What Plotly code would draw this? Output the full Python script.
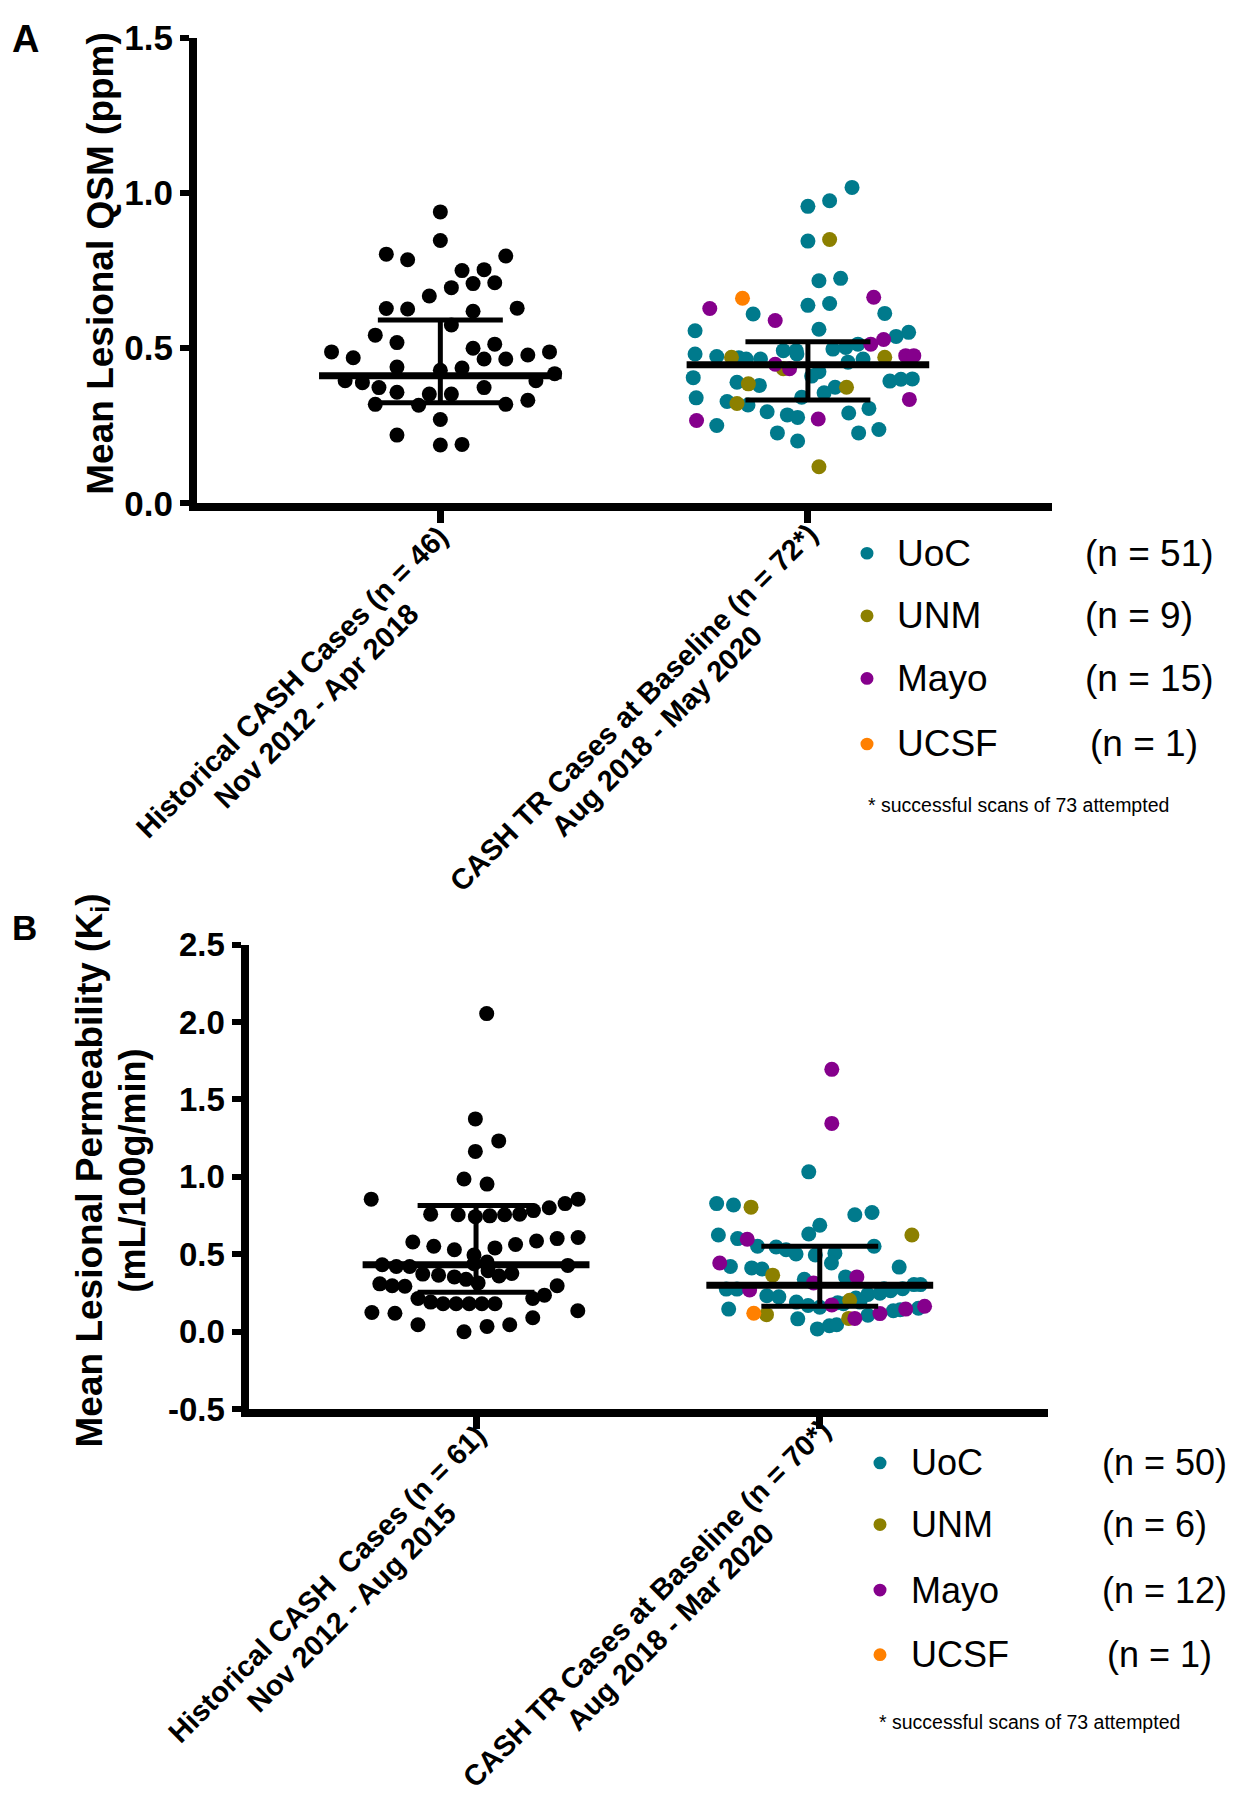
import plotly.graph_objects as go

# Reference canvas is 1234x1800; the page body has an 8px margin, so the
# figure is made 16px smaller and every layout position is shifted by 8px.
W, H = 1234, 1800
OFF = 8
FW, FH = W - 2 * OFF, H - 2 * OFF
FONT = "Liberation Sans, Arial, Helvetica, sans-serif"

# ---------------- labels ----------------
cat_A_line1 = ["Historical CASH Cases (n = 46)", "CASH TR Cases at Baseline (n = 72*)"]
cat_A_line2 = ["Nov 2012 - Apr 2018", "Aug 2018 - May 2020"]
cat_B_line1 = ["Historical CASH\u00a0 Cases (n = 61)", "CASH TR Cases at Baseline (n = 70*)"]
cat_B_line2 = ["Nov 2012 - Aug 2015", "Aug 2018 - Mar 2020"]

sites = ["UoC", "UNM", "Mayo", "UCSF"]
site_colors = ["#007A8C", "#8C8000", "#85008C", "#FF8000"]
legend_n_A = ["(n = 51)", "(n = 9)", "(n = 15)", "(n = 1)"]
legend_n_B = ["(n = 50)", "(n = 6)", "(n = 12)", "(n = 1)"]
footnote = "* successful scans of 73 attempted"

ytitle_A = "Mean Lesional QSM (ppm)"
ytitle_B1 = "Mean Lesional Permeability (K<sub>i</sub>)"
ytitle_B2 = "(mL/100g/min)"

yticks_A = [0.0, 0.5, 1.0, 1.5]
yticklabels_A = ["0.0", "0.5", "1.0", "1.5"]
yticks_B = [-0.5, 0.0, 0.5, 1.0, 1.5, 2.0, 2.5]
yticklabels_B = ["-0.5", "0.0", "0.5", "1.0", "1.5", "2.0", "2.5"]

# ---------------- Panel A data (QSM, ppm) ----------------
a_hist_y = [0.939, 0.847, 0.803, 0.785, 0.797, 0.750, 0.753, 0.695, 0.708, 0.711,
            0.668, 0.628, 0.626, 0.619, 0.629, 0.575, 0.542, 0.518, 0.500, 0.513,
            0.488, 0.469, 0.465, 0.465, 0.478, 0.488, 0.439, 0.429, 0.436, 0.418,
            0.395, 0.389, 0.373, 0.395, 0.373, 0.358, 0.352, 0.352, 0.319, 0.316,
            0.319, 0.332, 0.270, 0.220, 0.188, 0.190]
a_hist_dx = [0.000, 0.000, -0.147, -0.089, 0.178, 0.059, 0.119, 0.030, 0.089, 0.148,
             -0.030, -0.147, -0.089, 0.089, 0.209, 0.030, -0.177, -0.118, 0.089, 0.148,
             -0.296, -0.237, 0.119, 0.178, 0.238, 0.297, -0.118, 0.000, 0.059, 0.311,
             -0.259, -0.212, -0.167, 0.260, 0.119, -0.118, -0.030, 0.030, -0.177, -0.059,
             0.178, 0.238, 0.000, -0.118, 0.000, 0.059]

a_uoc_y = [1.018, 0.975, 0.957, 0.845, 0.717, 0.725, 0.638, 0.644, 0.610, 0.612,
           0.556, 0.561, 0.551, 0.538, 0.481, 0.473, 0.469, 0.465, 0.465, 0.492,
           0.492, 0.481, 0.497, 0.502, 0.513, 0.455, 0.465, 0.424, 0.410, 0.405,
           0.390, 0.380, 0.394, 0.400, 0.401, 0.374, 0.356, 0.342, 0.340, 0.328,
           0.317, 0.295, 0.285, 0.277, 0.291, 0.306, 0.251, 0.227, 0.201, 0.227,
           0.238]
a_uoc_dx = [0.120, 0.059, 0.000, 0.000, 0.030, 0.089, 0.000, 0.059, -0.149, 0.209,
            -0.307, 0.030, 0.274, 0.240, -0.307, -0.248, -0.188, -0.168, -0.129, -0.067,
            -0.032, -0.030, 0.068, 0.103, 0.136, 0.109, 0.150, 0.030, 0.010, -0.312,
            -0.193, -0.132, 0.223, 0.253, 0.284, 0.074, 0.044, -0.017, -0.304, -0.220,
            -0.163, -0.111, -0.056, -0.028, 0.111, 0.166, -0.248, -0.083, -0.028, 0.138,
            0.193]
a_unm_y = [0.850, 0.471, 0.471, 0.434, 0.385, 0.374, 0.322, 0.118]
a_unm_dx = [0.059, -0.208, 0.209, -0.067, -0.162, 0.105, -0.193, 0.030]
a_mayo_y = [0.628, 0.589, 0.664, 0.528, 0.513, 0.476, 0.476, 0.448, 0.434, 0.335, 0.267, 0.272]
a_mayo_dx = [-0.267, -0.089, 0.179, 0.206, 0.171, 0.266, 0.288, -0.089, -0.050, 0.276, -0.303, 0.028]
a_ucsf_y = [0.661]
a_ucsf_dx = [-0.178]

a_median = [0.411, 0.447]
a_q1 = [0.324, 0.333]
a_q3 = [0.591, 0.521]

# ---------------- Panel B data (Ki, mL/100g/min) ----------------
b_hist_y = [2.054, 1.374, 1.232, 1.164, 0.986, 0.953, 0.856, 0.856, 0.827, 0.800,
            0.782, 0.759, 0.755, 0.743, 0.748, 0.755, 0.759, 0.579, 0.552, 0.529,
            0.541, 0.563, 0.586, 0.601, 0.608, 0.495, 0.432, 0.421, 0.421, 0.372,
            0.365, 0.354, 0.450, 0.360, 0.376, 0.428, 0.338, 0.315, 0.309, 0.297,
            0.293, 0.297, 0.236, 0.214, 0.191, 0.180, 0.180, 0.180, 0.180, 0.180,
            0.214, 0.124, 0.119, 0.135, 0.045, 0.000, 0.034, 0.045, 0.090, 0.439,
            0.394]
b_hist_dx = [0.031, -0.002, 0.066, -0.002, -0.035, 0.032, -0.305, 0.297, 0.259, 0.213,
             0.167, -0.132, -0.052, -0.002, 0.040, 0.083, 0.127, -0.184, -0.123, -0.063,
             0.055, 0.115, 0.176, 0.236, 0.297, -0.006, -0.273, -0.232, -0.193, -0.155,
             -0.109, -0.063, 0.032, 0.067, 0.104, 0.267, -0.029, 0.006, -0.280, -0.244,
             -0.207, 0.236, 0.199, -0.169, -0.132, -0.096, -0.058, -0.020, 0.017, 0.055,
             0.165, -0.303, -0.236, 0.296, -0.169, -0.035, 0.032, 0.098, 0.165, -0.006,
             0.035]

b_uoc_y = [1.032, 0.827, 0.818, 0.755, 0.770, 0.687, 0.631, 0.624, 0.601, 0.552,
           0.547, 0.529, 0.502, 0.495, 0.507, 0.552, 0.444, 0.421, 0.412, 0.405,
           0.417, 0.338, 0.354, 0.275, 0.275, 0.232, 0.225, 0.191, 0.169, 0.158,
           0.187, 0.218, 0.241, 0.248, 0.264, 0.277, 0.304, 0.304, 0.146, 0.083,
           0.018, 0.038, 0.045, 0.106, 0.135, 0.142, 0.151, 0.191, 0.180, 0.277]
b_uoc_dx = [-0.032, -0.300, -0.251, 0.102, 0.152, 0.000, -0.032, -0.295, -0.239, -0.181,
            -0.127, -0.098, -0.069, -0.013, 0.044, 0.158, 0.034, -0.260, -0.198, -0.168,
            0.231, -0.045, 0.075, -0.272, -0.241, -0.154, -0.119, -0.068, -0.034, 0.000,
            0.052, 0.105, 0.140, 0.175, 0.206, 0.241, 0.274, 0.293, -0.265, -0.064,
            -0.007, 0.028, 0.049, 0.140, 0.214, 0.234, 0.287, 0.117, 0.069, 0.187]
b_unm_y = [0.804, 0.624, 0.365, 0.203, 0.110, 0.086]
b_unm_dx = [-0.200, 0.268, -0.137, 0.087, -0.155, 0.084]
b_mayo_y = [1.694, 1.345, 0.597, 0.444, 0.270, 0.315, 0.354, 0.173, 0.086, 0.117, 0.146, 0.164]
b_mayo_dx = [0.035, 0.035, -0.211, -0.291, -0.204, -0.018, 0.108, 0.035, 0.102, 0.175, 0.250, 0.305]
b_ucsf_y = [0.119]
b_ucsf_dx = [-0.192]

b_median = [0.432, 0.300]
b_q1 = [0.255, 0.164]
b_q3 = [0.815, 0.552]

# ---------------- style constants ----------------
DOT = 15
MED_HALF = 0.33
CAP_HALF = 0.17
AXW = 8


def px(x):
    return (x - OFF) / FW


def py(y):
    return 1 - (y - OFF) / FH


fig = go.Figure()


def dots(cat, dx, y, color, xa, ya):
    fig.add_trace(go.Scatter(
        x=[cat + d for d in dx], y=y, mode="markers", xaxis=xa, yaxis=ya,
        marker=dict(size=DOT, color=color, line=dict(width=0)),
        hoverinfo="skip", showlegend=False))


def errbars(med, q1, q3, xa, ya):
    for c in range(2):
        fig.add_trace(go.Scatter(
            x=[c - CAP_HALF, c + CAP_HALF, None, c - CAP_HALF, c + CAP_HALF, None, c, c],
            y=[q3[c], q3[c], None, q1[c], q1[c], None, q1[c], q3[c]],
            mode="lines", xaxis=xa, yaxis=ya, line=dict(color="black", width=5),
            hoverinfo="skip", showlegend=False))
        fig.add_trace(go.Scatter(
            x=[c - MED_HALF, c + MED_HALF], y=[med[c], med[c]],
            mode="lines", xaxis=xa, yaxis=ya, line=dict(color="black", width=7),
            hoverinfo="skip", showlegend=False))


# Panel A
dots(0, a_hist_dx, a_hist_y, "black", "x", "y")
for dx, y, col in [(a_uoc_dx, a_uoc_y, site_colors[0]), (a_unm_dx, a_unm_y, site_colors[1]),
                   (a_mayo_dx, a_mayo_y, site_colors[2]), (a_ucsf_dx, a_ucsf_y, site_colors[3])]:
    dots(1, dx, y, col, "x", "y")
errbars(a_median, a_q1, a_q3, "x", "y")

# Panel B
dots(0, b_hist_dx, b_hist_y, "black", "x2", "y2")
for dx, y, col in [(b_uoc_dx, b_uoc_y, site_colors[0]), (b_unm_dx, b_unm_y, site_colors[1]),
                   (b_mayo_dx, b_mayo_y, site_colors[2]), (b_ucsf_dx, b_ucsf_y, site_colors[3])]:
    dots(1, dx, y, col, "x2", "y2")
errbars(b_median, b_q1, b_q3, "x2", "y2")

xcommon = dict(range=[-0.662, 1.664], tickvals=[0, 1], showticklabels=False,
               ticks="outside", ticklen=12, tickwidth=7, tickcolor="black",
               showline=True, linewidth=AXW, linecolor="black",
               showgrid=False, zeroline=False, fixedrange=True)
ycommon = dict(ticks="outside", ticklen=9, tickwidth=6, tickcolor="black",
               showline=True, linewidth=AXW, linecolor="black",
               showgrid=False, zeroline=False, fixedrange=True)

fig.update_layout(
    width=FW, height=FH, margin=dict(l=0, r=0, t=0, b=0),
    paper_bgcolor="white", plot_bgcolor="white", showlegend=False,
    font=dict(family=FONT, color="black"),
    xaxis=dict(domain=[px(197), px(1052)], anchor="y", **xcommon),
    yaxis=dict(domain=[py(494), py(18)], anchor="x", range=[0, 1.5],
               tickvals=yticks_A, ticktext=yticklabels_A,
               tickfont=dict(size=35, family=FONT, weight="bold"), **ycommon),
    xaxis2=dict(domain=[px(248.5), px(1048)], anchor="y2", **xcommon),
    yaxis2=dict(domain=[py(1420), py(945)], anchor="x2", range=[-0.5, 2.5],
                tickvals=yticks_B, ticktext=yticklabels_B,
                tickfont=dict(size=33, family=FONT, weight="bold"), **ycommon),
)

ann = []


def text(x, y, t, size, bold=False, angle=0, xanchor="center", yanchor="middle"):
    ann.append(dict(x=px(x), y=py(y), xref="paper", yref="paper", text=t,
                    showarrow=False, textangle=angle, xanchor=xanchor, yanchor=yanchor,
                    font=dict(family=FONT, size=size, color="black",
                              weight="bold" if bold else "normal")))


# panel letters (kept just inside the page margin so they are not clipped)
text(10, 19, "A", 38, bold=True, xanchor="left")
text(10, 928, "B", 35, bold=True, xanchor="left")

# y-axis titles
text(101, 249, ytitle_A, 37, bold=True, angle=-90)
text(92, 1176, ytitle_B1, 37, bold=True, angle=-90)
text(132, 1176, ytitle_B2, 36, bold=True, angle=-90)

# category labels (two lines each, rotated 45 deg)
LS = 24
for (cx, cy), l1, l2 in zip([(292, 677), (633, 703)], cat_A_line1, cat_A_line2):
    text(cx, cy, l1, 29, bold=True, angle=-45)
    text(cx + LS, cy + LS, l2, 29, bold=True, angle=-45)
for (cx, cy), l1, l2 in zip([(327, 1599), (646, 1619)], cat_B_line1, cat_B_line2):
    text(cx, cy, l1, 29, bold=True, angle=-45)
    text(cx + LS, cy + LS, l2, 29, bold=True, angle=-45)

shapes = []


def legend(dot_x, rows_y, txt_x, n_x, n_labels, note_xy, size):
    for i, (s, col, n) in enumerate(zip(sites, site_colors, n_labels)):
        yy = rows_y[i]
        r = 6.5
        shapes.append(dict(type="circle", xref="paper", yref="paper",
                           x0=px(dot_x - r), x1=px(dot_x + r), y0=py(yy + r), y1=py(yy - r),
                           fillcolor=col, line=dict(width=0)))
        text(txt_x, yy, s, size, xanchor="left")
        text(n_x[i], yy, n, size, xanchor="left")
    text(note_xy[0], note_xy[1], footnote, 19.5, xanchor="left")


legend(867, [545, 609, 673, 740], 895, [1083, 1083, 1083, 1088], legend_n_A, (866, 802), 37)
legend(880, [1475, 1538, 1605, 1671], 909, [1100, 1100, 1100, 1105], legend_n_B, (877, 1740), 36)

fig.update_layout(annotations=ann, shapes=shapes)
fig.write_html("out.html")
